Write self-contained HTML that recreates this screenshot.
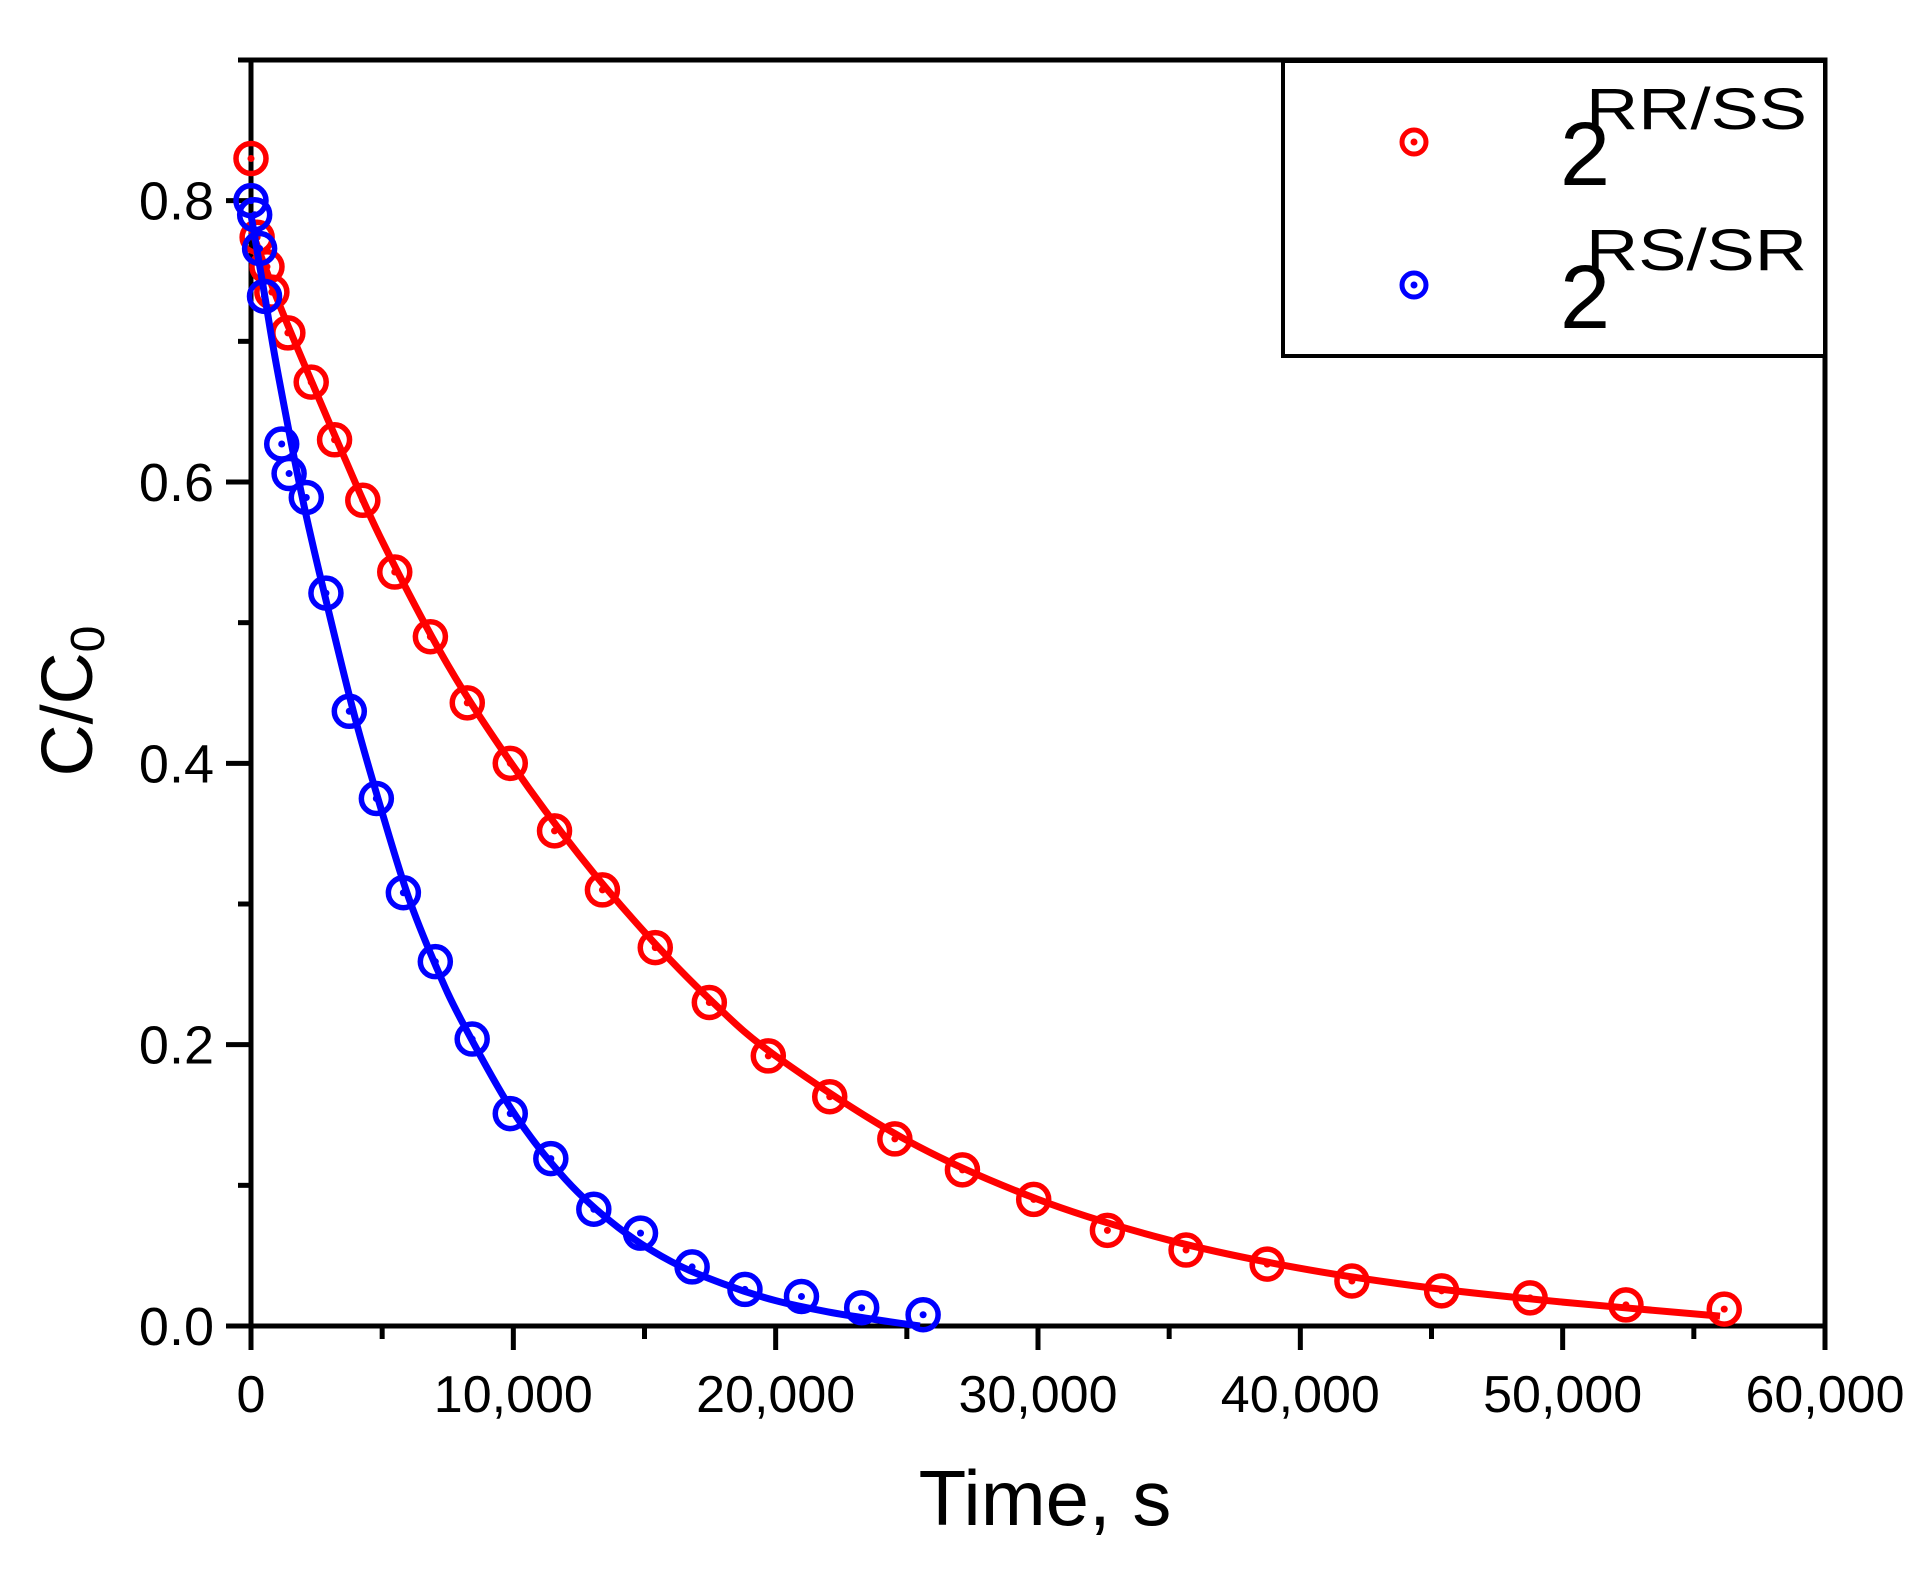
<!DOCTYPE html>
<html><head><meta charset="utf-8"><style>
html,body{margin:0;padding:0;background:#fff;}
svg{display:block;font-family:"Liberation Sans",Arial,sans-serif;}
</style></head><body>
<svg id="chart" width="1927" height="1570" viewBox="0 0 1927 1570" xmlns="http://www.w3.org/2000/svg">
<rect x="0" y="0" width="1927" height="1570" fill="#fff"/>
<g id="axes"></g>
<g id="series"></g>
<g id="legend">
  <rect x="1283" y="61" width="542" height="295" fill="#fff" stroke="#000" stroke-width="4"/>
  <g>
    <circle cx="1414" cy="142" r="12" fill="none" stroke="#f00" stroke-width="5"/>
    <circle cx="1414" cy="142" r="3.5" fill="#f00"/>
    <text x="1560" y="185" font-size="90" fill="#000">2</text>
    <text x="1586" y="129" font-size="58" textLength="221" lengthAdjust="spacingAndGlyphs" fill="#000">RR/SS</text>
  </g>
  <g>
    <circle cx="1414" cy="285" r="12" fill="none" stroke="#00f" stroke-width="5"/>
    <circle cx="1414" cy="285" r="3.5" fill="#00f"/>
    <text x="1560" y="328" font-size="90" fill="#000">2</text>
    <text x="1586" y="270" font-size="58" textLength="221" lengthAdjust="spacingAndGlyphs" fill="#000">RS/SR</text>
  </g>
</g>
<text x="1045" y="1525" font-size="78" text-anchor="middle">Time, s</text>
<text transform="translate(92,701) rotate(-90)" font-size="72" text-anchor="middle">C/C<tspan font-size="48" dy="12">0</tspan></text>
</svg>
<script>
const xTicks = [0, 10000, 20000, 30000, 40000, 50000, 60000];
const xTickLabels = ["0", "10,000", "20,000", "30,000", "40,000", "50,000", "60,000"];
const yTicks = [0, 0.2, 0.4, 0.6, 0.8];
const yTickLabels = ["0.0", "0.2", "0.4", "0.6", "0.8"];
const redT = [0,234,609,796,1405,2295,3185,4262,5480,6838,8244,9883,11570,13396,15410,17471,19719,22061,24543,27119,29836,32646,35644,38735,41967,45386,48759,52412,56159];
const redY = [0.830,0.774,0.753,0.735,0.706,0.671,0.630,0.587,0.536,0.490,0.443,0.400,0.352,0.310,0.269,0.230,0.192,0.163,0.133,0.111,0.090,0.068,0.054,0.044,0.032,0.025,0.020,0.015,0.012];
const blueT = [0,140,328,515,1171,1452,2108,2857,3747,4778,5808,7026,8431,9883,11429,13068,14848,16815,18829,20984,23279,25621];
const blueY = [0.800,0.790,0.766,0.732,0.627,0.606,0.589,0.521,0.437,0.375,0.308,0.259,0.204,0.151,0.119,0.083,0.066,0.042,0.026,0.021,0.013,0.008];
const redFitT = [0,1000,2000,3500,5000,7500,10000,12500,15000,17500,20000,25000,30000,35000,40000,45000,50000,56000];
const redFitY = [0.780,0.730,0.685,0.620,0.558,0.470,0.398,0.335,0.280,0.232,0.192,0.132,0.090,0.061,0.041,0.027,0.017,0.007];
const blueFitT = [0,500,1000,2000,3000,4000,5000,6000,7000,8000,10000,12000,14000,16000,18000,20000,22000,24000,25500];
const blueFitY = [0.790,0.735,0.680,0.585,0.505,0.430,0.365,0.305,0.258,0.218,0.152,0.104,0.070,0.046,0.030,0.018,0.010,0.004,0.000];

const X0=251, X1=1825, Y0=1326, YT=60, XMAX=60000, YMAX=0.9;
const sx = t => X0 + t/XMAX*(X1-X0);
const sy = v => Y0 - v/YMAX*(Y0-YT);
const NS="http://www.w3.org/2000/svg";
function mk(tag, attrs, parent){const e=document.createElementNS(NS,tag);for(const k in attrs)e.setAttribute(k,attrs[k]);parent.appendChild(e);return e;}
const axes=document.getElementById('axes'), series=document.getElementById('series');

const frame = mk('rect',{x:X0,y:YT,width:X1-X0,height:Y0-YT,fill:'none',stroke:'#000','stroke-width':5},axes);


xTicks.forEach((t,i)=>{
  const l=mk('line',{x1:sx(t),x2:sx(t),y1:Y0,y2:Y0+24,stroke:'#000','stroke-width':5},axes);
  
  
  const tx=mk('text',{x:sx(t),y:Y0+86,'font-size':52,'text-anchor':'middle'},axes);
  tx.textContent=xTickLabels[i];
  
  
  if(i<xTicks.length-1){
    const m=mk('line',{x1:sx(t+5000),x2:sx(t+5000),y1:Y0,y2:Y0+13,stroke:'#000','stroke-width':5},axes);
    
    
  }
});
yTicks.forEach((v,i)=>{
  const l=mk('line',{x1:X0-25,x2:X0,y1:sy(v),y2:sy(v),stroke:'#000','stroke-width':5},axes);
  
  
  const tx=mk('text',{x:X0-37,y:sy(v)+19,'font-size':54,'text-anchor':'end'},axes);
  tx.textContent=yTickLabels[i];
  
  
  const m=mk('line',{x1:X0-13,x2:X0,y1:sy(v+0.1),y2:sy(v+0.1),stroke:'#000','stroke-width':5},axes);
  
  
});

function smoothPath(T,Y){
  const p=T.map((t,i)=>[sx(t),sy(Y[i])]);
  let d='M'+p[0][0]+','+p[0][1];
  for(let i=0;i<p.length-1;i++){
    const a=p[Math.max(0,i-1)],b=p[i],c=p[i+1],e=p[Math.min(p.length-1,i+2)];
    const c1=[b[0]+(c[0]-a[0])/6,b[1]+(c[1]-a[1])/6], c2=[c[0]-(e[0]-b[0])/6,c[1]-(e[1]-b[1])/6];
    d+=' C'+c1+' '+c2+' '+c;
  }
  return d;
}
function drawSeries(T,Y,FT,FY,color,name){
  const g=mk('g',{},series);
  
  
  const path=mk('path',{d:smoothPath(FT,FY),fill:'none',stroke:color,'stroke-width':7},g);
  
  
  T.forEach((t,i)=>{
    const c=mk('circle',{cx:sx(t),cy:sy(Y[i]),r:15,fill:'none',stroke:color,'stroke-width':5.5},g);
    
    
    mk('circle',{cx:sx(t),cy:sy(Y[i]),r:3.5,fill:color},g);
  });
}
drawSeries(redT,redY,redFitT,redFitY,'#f00','rr-ss');
drawSeries(blueT,blueY,blueFitT,blueFitY,'#00f','rs-sr');
</script>
</body></html>
